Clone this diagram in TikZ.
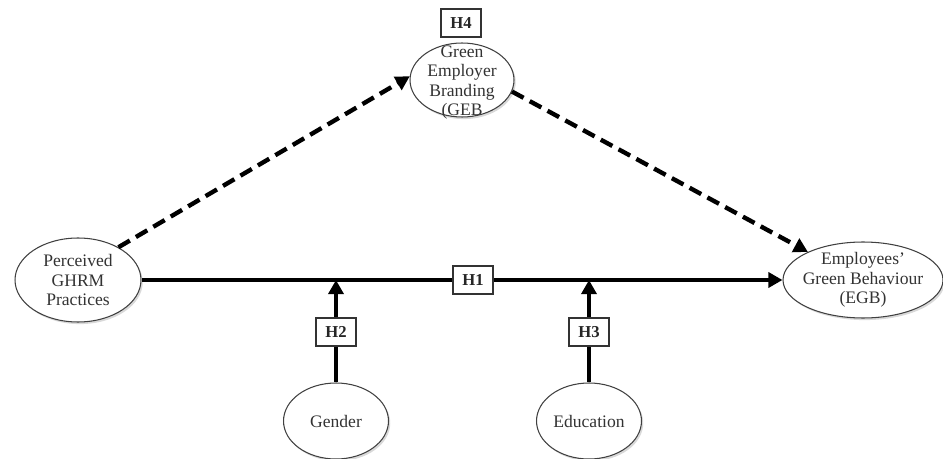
\documentclass[tikz,border=0pt]{standalone}
\usepackage{fontspec}
\setmainfont{Liberation Serif}
\usetikzlibrary{shapes.geometric,arrows.meta,shadows}
\tikzset{
  oval/.style={ellipse, draw=black!75, line width=0.6pt, fill=white, inner sep=0pt,
    drop shadow={shadow xshift=1pt, shadow yshift=-1.2pt, opacity=0.3}},
  ovaltext/.style={align=center, font=\fontsize{10}{11}\selectfont, text=black!80},
  hbox/.style={draw=black!80, line width=0.8pt, fill=white, text=black!85,
    font=\fontsize{9.5}{10}\selectfont\bfseries, minimum width=0.8cm, minimum height=0.56cm, inner sep=1pt},
  link/.style={line width=2.2pt, -{Triangle[length=8pt,width=8.5pt]}},
  dlink/.style={link, line width=2.5pt, dash pattern=on 7.5pt off 4pt}
}
\begin{document}
\begin{tikzpicture}[x=0.02cm,y=-0.02cm]
\useasboundingbox (0,0) rectangle (943,459);
% constructs
\node[oval, minimum width=2.52cm, minimum height=1.68cm,
  label={[ovaltext]center:{Perceived\\GHRM\\Practices}}] (perc) at (78,280) {};
\node[oval, minimum width=3.2cm, minimum height=1.52cm,
  label={[ovaltext]center:{Employees'\\Green Behaviour\\(EGB)}}] (egb) at (863,280) {};
\node[oval, minimum width=2.08cm, minimum height=1.48cm,
  label={[ovaltext, yshift=-1.5pt]center:{Green\\Employer\\Branding\\(GEB}}] (geb) at (462,80) {};
\node[hbox] (h4) at (461,23) {H4};
% mediation path
\draw[dlink] (perc.39) -- (geb.176);
\draw[dlink] (geb.-13) -- (egb.153);
% direct path
\draw[link] (perc.east) -- (egb.west);
\node[hbox] (h1) at (473,280) {H1};
% moderators
\foreach \n/\x/\t/\h in {gender/336/Gender/H2, educ/589/Education/H3}
{
  \node[oval, minimum width=2.1cm, minimum height=1.52cm,
    label={[ovaltext]center:\t}] (\n) at (\x,421) {};
  \coordinate (j-\n) at (\n.north |- perc.east);
  \draw[link] (\n.north) -- (j-\n);
  \node[hbox] (h-\n) at (\x,332) {\h};
}
\end{tikzpicture}
\end{document}
